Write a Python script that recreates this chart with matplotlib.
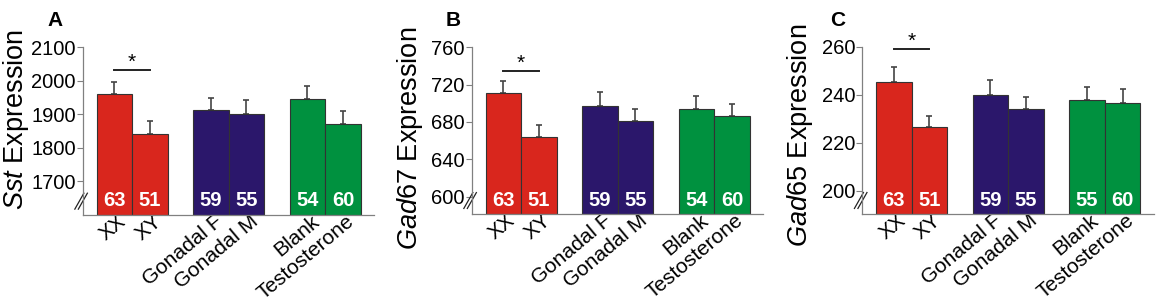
import matplotlib
matplotlib.use('Agg')
from matplotlib import pyplot as plt
from matplotlib import transforms
import numpy as np

plt.rcParams['font.family'] = ['Liberation Sans', 'DejaVu Sans']
plt.rcParams['mathtext.fontset'] = 'custom'
plt.rcParams['mathtext.rm'] = 'Liberation Sans'
plt.rcParams['mathtext.it'] = 'Liberation Sans:italic'

# data
groups = ['XX', 'XY', 'Gonadal F', 'Gonadal M', 'Blank', 'Testosterone']
bar_colors = ['#d9261d', '#d9261d', '#2b176b', '#2b176b', '#00913f', '#00913f']

sst_mean = [1960, 1841, 1913, 1900, 1946, 1872]
sst_err_top = [1997, 1880, 1949, 1944, 1985, 1910]
sst_n = [63, 51, 59, 55, 54, 60]

gad67_mean = [711, 663.5, 697, 681.5, 694, 686]
gad67_err_top = [724, 677, 712, 694, 708, 699]
gad67_n = [63, 51, 59, 55, 54, 60]

gad65_mean = [245.4, 226.7, 240, 234.1, 237.8, 236.5]
gad65_err_top = [251.6, 231.3, 246.2, 239.1, 243.4, 242.3]
gad65_n = [63, 51, 59, 55, 55, 60]

panels = [
  dict(letter='A', gene='Sst', mean=sst_mean, err=sst_err_top, n=sst_n,
       ylim=(1600, 2100), ticks=[1700, 1800, 1900, 2000, 2100], sig=2032,
       left=82.7, bottom=215, top=47.3, lab=(-0.178, 0.572), let=(55, 20)),
  dict(letter='B', gene='Gad67', mean=gad67_mean, err=gad67_err_top, n=gad67_n,
       ylim=(581, 760), ticks=[600, 640, 680, 720, 760], sig=734.6,
       left=471.7, bottom=214.3, top=47.3, lab=(-0.16, 0.457), let=(453, 20)),
  dict(letter='C', gene='Gad65', mean=gad65_mean, err=gad65_err_top, n=gad65_n,
       ylim=(190.3, 260), ticks=[200, 220, 240, 260], sig=259,
       left=862.3, bottom=214.3, top=46.7, lab=(-0.162, 0.47), let=(838, 20)),
]

W, H = 1158, 308
xpos = np.array([0, 1, 2.72, 3.72, 5.44, 6.44])

fig = plt.figure(figsize=(W / 100, H / 100), dpi=100)

for p in panels:
  ax = fig.add_axes([p['left'] / W, (H - p['bottom']) / H, 291.5 / W,
                     (p['bottom'] - p['top']) / H])
  mean = np.array(p['mean'])
  up = np.array(p['err']) - mean
  ax.errorbar(xpos, mean, yerr=[np.zeros_like(up), up], fmt='none',
              ecolor='#444444', elinewidth=1.2, capsize=2, capthick=1.2, zorder=1)
  ax.bar(xpos, mean - p['ylim'][0], bottom=p['ylim'][0], width=1.0,
         color=bar_colors, edgecolor='#333333', linewidth=0.8, zorder=2)

  tr = transforms.blended_transform_factory(ax.transData, ax.transAxes)
  for x, n in zip(xpos, p['n']):
    ax.text(x, 0.085, str(n), transform=tr, ha='center', va='center',
            color='white', fontsize=14.5, fontweight='bold', zorder=3)

  # significance bar between XX and XY
  ax.plot(xpos[:2], [p['sig'], p['sig']], color='#222222', lw=1.4, clip_on=False)
  ax.annotate('*', (xpos[:2].mean(), p['sig']), xytext=(0, -1),
              textcoords='offset points', ha='center', va='bottom',
              fontsize=15, annotation_clip=False)

  ax.set_xlim(-0.89, 7.32)
  ax.set_ylim(*p['ylim'])
  ax.set_yticks(p['ticks'])
  ax.tick_params(axis='y', labelsize=14.5, length=4, width=0.8, color='#808080',
                 pad=1)
  ax.tick_params(axis='x', length=0, pad=2)
  ax.set_xticks(xpos)
  ax.set_xticklabels(groups, fontsize=15, rotation=40, ha='right', va='center',
                     rotation_mode='anchor')
  off = transforms.ScaledTranslation(9 / 100, -1 / 100, fig.dpi_scale_trans)
  for lbl in ax.get_xticklabels():
    lbl.set_transform(lbl.get_transform() + off)

  for s in ['top', 'right']:
    ax.spines[s].set_visible(False)
  for s in ['left', 'bottom']:
    ax.spines[s].set_color('#808080')
    ax.spines[s].set_linewidth(0.9)

  ax.set_ylabel(r'$\mathit{' + p['gene'] + '}$ Expression', fontsize=19.5)
  ax.yaxis.set_label_coords(*p['lab'])

  # axis break marks
  for dx in [0, 0.012]:
    ax.plot([-0.027 + dx, 0.004 + dx], [0.035, 0.13], transform=ax.transAxes,
            color='#222222', lw=0.9, clip_on=False)

  fig.text(p['let'][0] / W, 1 - p['let'][1] / H, p['letter'], ha='center',
           va='center', fontsize=15, fontweight='bold')

fig.savefig('out.png', dpi=100)
